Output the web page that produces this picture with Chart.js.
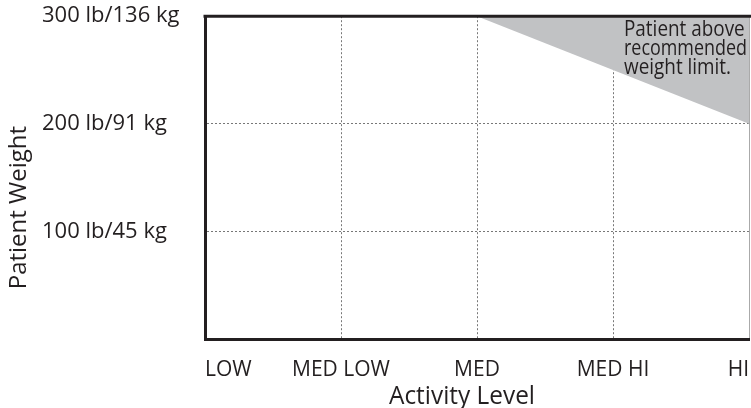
<!DOCTYPE html>
<html>
<head>
<meta charset="utf-8">
<script src="https://cdn.jsdelivr.net/npm/chart.js@4/dist/chart.umd.min.js"></script>
<style>
  body { margin: 0; background: #fff; }
</style>
</head>
<body>
<canvas id="plot1" width="751" height="408"></canvas>
<script>
// categorias del eje x
const activityLevels = ['LOW', 'MED LOW', 'MED', 'MED HI', 'HI'];
// etiquetas del eje y (cada 100 lb)
const weightTicks = [0, 100, 200, 300];
const weightLabels = ['', '100 lb/45 kg', '200 lb/91 kg', '300 lb/136 kg'];
// limite de peso recomendado por nivel de actividad (lb)
const weightLimit = [null, null, 300, null, 200];
const noteLines = ['Patient above', 'recommended', 'weight limit.'];
const xTitle = 'Activity Level';
const yTitle = 'Patient Weight';

const ink = '#231f20';
Chart.defaults.font.family = "'Open Sans', sans-serif";
Chart.defaults.color = ink;

// borde superior, titulos de los ejes y nota
let frameAndNote = {
  id: 'frameAndNote',
  afterDraw(chart) {
    const {ctx, chartArea, scales} = chart;
    ctx.save();
    ctx.strokeStyle = ink;
    ctx.lineWidth = 3;
    ctx.beginPath();
    ctx.moveTo(chartArea.left - 1.5, chartArea.top);
    ctx.lineTo(chartArea.right + 2, chartArea.top);
    ctx.stroke();

    // nota dentro del area gris
    ctx.fillStyle = ink;
    ctx.font = "21px 'Open Sans', sans-serif";
    ctx.textAlign = 'left';
    ctx.textBaseline = 'alphabetic';
    let x = scales.x.getPixelForValue(3) + 11;
    let y = scales.y.getPixelForValue(300) + 20;
    noteLines.forEach((line, i) => {
      let w = Math.min(ctx.measureText(line).width * 0.9, 123);
      ctx.fillText(line, x, y + i * 19, w);
    });

    // titulo del eje x
    ctx.font = "25px 'Open Sans', sans-serif";
    ctx.textAlign = 'center';
    ctx.fillText(xTitle, scales.x.getPixelForValue(2) - 15, 404, 146);

    // titulo vertical
    ctx.font = "24px 'Open Sans', sans-serif";
    ctx.textBaseline = 'middle';
    ctx.translate(19, (chartArea.top + chartArea.bottom) / 2 + 30);
    ctx.rotate(-Math.PI / 2);
    ctx.fillText(yTitle, 0, 0);
    ctx.restore();
  }
};

let config = {
  type: 'line',
  data: {
    labels: activityLevels,
    datasets: [{
      label: 'Weight limit',
      data: weightLimit,
      spanGaps: true,
      fill: 'end',
      backgroundColor: '#c1c2c4',
      borderWidth: 0,
      pointRadius: 0
    }]
  },
  options: {
    responsive: false,
    animation: false,
    layout: { padding: { left: 42, top: 15, right: 2, bottom: 0 } },
    plugins: { legend: { display: false }, tooltip: { enabled: false } },
    scales: {
      x: {
        z: 1,
        offset: false,
        afterFit: (scale) => {
          scale.height = 69;
          scale.paddingLeft = 0;
          scale.paddingRight = 0;
        },
        grid: {
          color: (c) => c.index === activityLevels.length - 1 ? '#aaa' : '#777',
          lineWidth: 1,
          drawTicks: false
        },
        border: {
          color: ink,
          width: 3,
          dash: (c) => c.index === activityLevels.length - 1 ? [] : [2, 2]
        },
        ticks: {
          align: 'inner',
          padding: 18,
          maxRotation: 0,
          autoSkip: false,
          font: { size: 21 },
          color: ink
        }
      },
      y: {
        z: 1,
        min: 0,
        max: 300,
        afterFit: (scale) => { scale.width = 163; },
        afterBuildTicks: (scale) => { scale.ticks = weightTicks.map(v => ({value: v})); },
        grid: { color: '#777', lineWidth: 1, drawTicks: false },
        border: { color: ink, width: 3, dash: [2, 2] },
        ticks: {
          crossAlign: 'far',
          font: { size: 22 },
          color: ink,
          callback: (v) => weightLabels[weightTicks.indexOf(v)]
        }
      }
    }
  },
  plugins: [frameAndNote]
};

let chart1 = new Chart(document.getElementById('plot1'), config);
</script>
</body>
</html>
